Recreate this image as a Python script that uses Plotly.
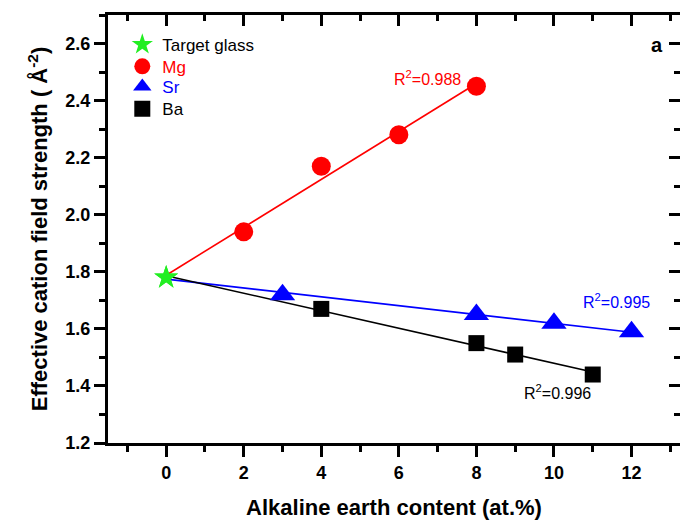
import numpy as np
import plotly.graph_objects as go

# ---- data ----
target_x = [0]
target_y = [1.78]

mg_x = [2, 4, 6, 8]
mg_y = [1.94, 2.17, 2.28, 2.45]

sr_x = [3, 8, 10, 12]
sr_y = [1.72, 1.65, 1.62, 1.59]

ba_x = [4, 8, 9, 11]
ba_y = [1.67, 1.55, 1.51, 1.44]

r2_labels = {"Mg": "R<sup>2</sup>=0.988", "Sr": "R<sup>2</sup>=0.995", "Ba": "R<sup>2</sup>=0.996"}

FONT = "Arial, Liberation Sans, sans-serif"

def fit_line(xs, ys):
    xa = np.array(target_x + xs, dtype=float)
    ya = np.array(target_y + ys, dtype=float)
    k, b = np.polyfit(xa, ya, 1)
    xl = np.array([0.0, max(xs)])
    return xl, k * xl + b

fig = go.Figure()

series = [
    ("Mg", mg_x, mg_y, "#ff0000", "circle", 19, "legend2"),
    ("Sr", sr_x, sr_y, "#0000ff", "triangle-up", 22, "legend3"),
    ("Ba", ba_x, ba_y, "#000000", "square", 16, "legend4"),
]

# fit lines
for name, xs, ys, col, sym, sz, lg in series:
    xl, yl = fit_line(xs, ys)
    fig.add_trace(go.Scatter(x=xl, y=yl, mode="lines", line=dict(color=col, width=1.6),
                             showlegend=False, hoverinfo="skip"))

# target glass
fig.add_trace(go.Scatter(x=target_x, y=target_y, mode="markers", name="Target glass", legend="legend",
                         marker=dict(symbol="star", size=18, color="#22ee22", line=dict(width=0))))

for name, xs, ys, col, sym, sz, lg in series:
    fig.add_trace(go.Scatter(x=xs, y=ys, mode="markers", legend=lg,
                             name=f"<span style='color:{col}'>{name}</span>",
                             marker=dict(symbol=sym, size=sz, color=col, line=dict(width=0))))

# re-draw star on top
fig.add_trace(go.Scatter(x=target_x, y=target_y, mode="markers", showlegend=False,
                         marker=dict(symbol="star", size=18, color="#22ee22", line=dict(width=0))))

# dummy trace for overlay axes
fig.add_trace(go.Scatter(x=[None], y=[None], xaxis="x2", yaxis="y2", showlegend=False))

xr = [-1.5, 13.25]
yr = [1.2, 2.7]

def lg(yv):
    return dict(x=0.025, y=yv, xanchor="left", yanchor="middle",
                bgcolor="rgba(0,0,0,0)", font=dict(size=17, family=FONT),
                tracegroupgap=0, itemsizing="trace")

fig.update_layout(
    width=680, height=521,
    margin=dict(l=108, r=0, t=15, b=78),
    plot_bgcolor="white", paper_bgcolor="white",
    font=dict(family=FONT, color="black"),
    showlegend=True,
    legend=lg(0.930), legend2=lg(0.879), legend3=lg(0.832), legend4=lg(0.780),
    xaxis=dict(range=xr, tick0=0, dtick=2, ticks="outside", ticklen=11, tickwidth=3,
               tickcolor="black", showline=True, linewidth=3, linecolor="black",
               showgrid=False, zeroline=False,
               minor=dict(dtick=1, tick0=0, ticks="outside", ticklen=6, tickwidth=3, tickcolor="black"),
               tickfont=dict(size=18, family=FONT, weight="bold"),
               title=dict(text="<b>Alkaline earth content (at.%)</b>", font=dict(size=22, family=FONT),
                          standoff=19)),
    yaxis=dict(range=yr, tick0=1.2, dtick=0.2, tickformat=".1f", ticks="outside", ticklen=11, tickwidth=3,
               tickcolor="black", showline=True, linewidth=3, linecolor="black",
               showgrid=False, zeroline=False,
               minor=dict(dtick=0.1, tick0=1.2, ticks="outside", ticklen=6, tickwidth=3, tickcolor="black"),
               tickfont=dict(size=18, family=FONT, weight="bold"),
               title=dict(text="<b>Effective cation field strength ( Å<sup>-2</sup>)</b>",
                          font=dict(size=22, family=FONT), standoff=12)),
    xaxis2=dict(overlaying="x", side="top", range=xr, tick0=0, dtick=2, ticks="inside",
                ticklen=11, tickwidth=3, tickcolor="black", showline=True, linewidth=3,
                linecolor="black", showticklabels=False, showgrid=False, zeroline=False,
                minor=dict(dtick=1, tick0=0, ticks="inside", ticklen=6, tickwidth=3, tickcolor="black")),
    yaxis2=dict(overlaying="y", side="right", range=yr, tick0=1.2, dtick=0.2, ticks="inside",
                ticklen=11, tickwidth=3, tickcolor="black", showline=False,
                showticklabels=False, showgrid=False, zeroline=False,
                minor=dict(dtick=0.1, tick0=1.2, ticks="inside", ticklen=6, tickwidth=3, tickcolor="black")),
)

fig.add_annotation(x=6.75, y=2.48, text=r2_labels["Mg"], showarrow=False,
                   font=dict(size=16, color="#ff0000", family=FONT))
fig.add_annotation(x=11.62, y=1.697, text=r2_labels["Sr"], showarrow=False,
                   font=dict(size=16, color="#0000ff", family=FONT))
fig.add_annotation(x=10.1, y=1.378, text=r2_labels["Ba"], showarrow=False,
                   font=dict(size=16, color="black", family=FONT))
fig.add_annotation(x=0.96, y=0.93, xref="paper", yref="paper", text="<b>a</b>", showarrow=False,
                   xanchor="center", yanchor="middle",
                   font=dict(size=20, color="black", family=FONT))

fig.write_html("out.html")
